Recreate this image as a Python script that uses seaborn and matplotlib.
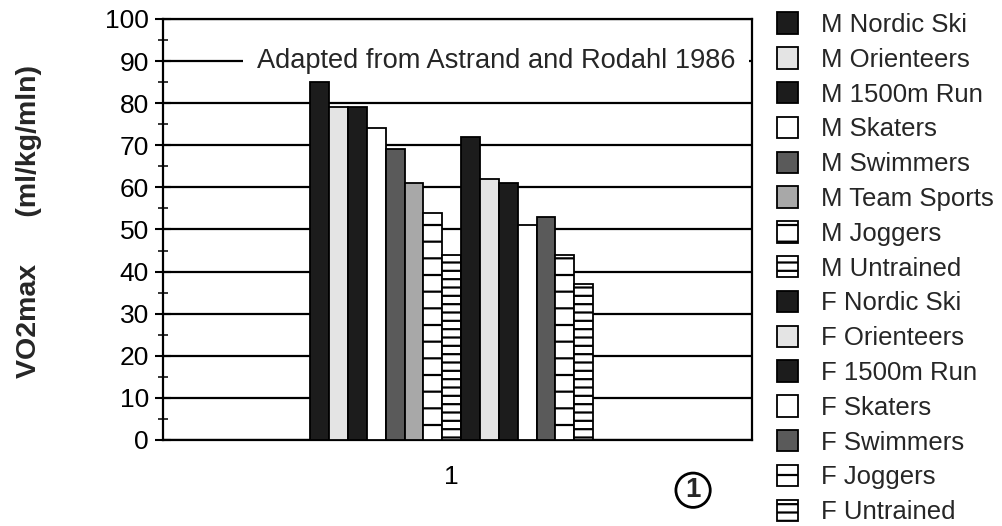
import seaborn as sns
import matplotlib.pyplot as plt
import pandas as pd
from matplotlib.ticker import MultipleLocator

groups = ["M Nordic Ski", "M Orienteers", "M 1500m Run", "M Skaters", "M Swimmers",
          "M Team Sports", "M Joggers", "M Untrained", "F Nordic Ski", "F Orienteers",
          "F 1500m Run", "F Skaters", "F Swimmers", "F Joggers", "F Untrained"]
vo2max = [85, 79, 79, 74, 69, 61, 54, 44, 72, 62, 61, 51, 53, 44, 37]
category = ["1"] * len(groups)

# fill colour and hatch per sport, same for men and women
sport_fill = {"Nordic Ski": "#1c1c1c", "Orienteers": "#e4e4e4", "1500m Run": "#1c1c1c",
              "Skaters": "white", "Swimmers": "#5a5a5a", "Team Sports": "#a8a8a8",
              "Joggers": "white", "Untrained": "white"}
sport_hatch = {"Joggers": "-", "Untrained": "--"}

df = pd.DataFrame({"x": category, "group": groups, "value": vo2max})
palette = {g: sport_fill[g[2:]] for g in groups}

sns.set_theme(style="white")
plt.rcParams['font.family'] = ['Liberation Sans', 'DejaVu Sans']
plt.rcParams['hatch.linewidth'] = 1.6

fig = plt.figure(figsize=(10.03, 5.26), dpi=100)
ax = fig.add_axes([0.1625, 0.1635, 0.5875, 0.8005])

sns.barplot(data=df, x="x", y="value", hue="group", hue_order=groups, palette=palette,
            width=0.48, edgecolor="black", linewidth=1.3, saturation=1, legend=False, ax=ax)

for g, cont in zip(groups, ax.containers):
    for bar in cont:
        bar.set_hatch(sport_hatch.get(g[2:], ""))
        bar.set_zorder(3)

ax.set_xlim(-0.49, 0.51)
ax.set_ylim(0, 100)
ax.yaxis.set_major_locator(MultipleLocator(10))
ax.yaxis.set_minor_locator(MultipleLocator(5))
ax.yaxis.grid(True, color="black", linewidth=1.6)
ax.set_axisbelow(True)
for s in ax.spines.values():
    s.set_color("black")
    s.set_linewidth(1.6)

ax.tick_params(axis="y", which="major", direction="inout", length=12, width=1.5,
               labelsize=19, colors="black", pad=4, left=True)
ax.tick_params(axis="y", which="minor", direction="inout", length=7, width=1.3, left=True)
ax.tick_params(axis="x", length=0, labelsize=19, pad=18, colors="black")

ax.set_xlabel("")
ax.set_ylabel("VO2max      (ml/kg/mln)", fontsize=20.5, fontweight="bold")
ax.yaxis.set_label_coords(-0.205, 0.52)

# source note sits over the 90 gridline but under the bars
ax.text(0.971, 90, "Adapted from Astrand and Rodahl 1986", transform=ax.get_yaxis_transform(),
        ha="right", va="center", fontsize=19.6, zorder=2,
        bbox=dict(facecolor="white", edgecolor="none", pad=10))

handles = [cont[0] for cont in ax.containers]
ax.legend(handles, groups, loc="upper left", bbox_to_anchor=(1.025, 1.04), frameon=False,
          fontsize=18.5, handlelength=0.8, handleheight=0.9, labelspacing=0.4,
          handletextpad=0.9, borderaxespad=0)

fig.text(0.691, 0.068, "1", fontsize=20, fontweight="bold", ha="center", va="center",
         bbox=dict(boxstyle="circle", facecolor="white", edgecolor="black", linewidth=2, pad=0.15))

plt.savefig("out.png", dpi=100)
